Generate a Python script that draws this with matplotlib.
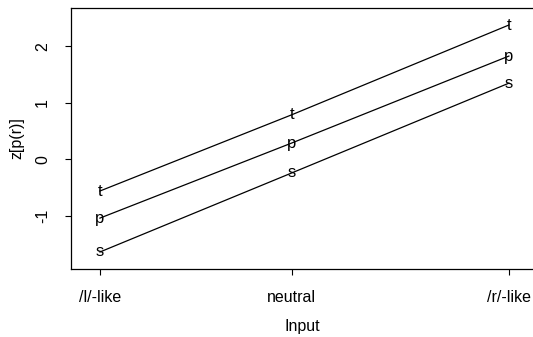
import matplotlib
matplotlib.use("Agg")
import matplotlib.pyplot as plt

plt.rcParams["font.family"] = ["Liberation Sans", "DejaVu Sans"]

# input positions (ticks are not quite evenly spaced)
input_pos = [0.0, 0.469, 1.0]
input_labels = ["/l/-like", "neutral", "/r/-like"]

# z[p(r)] per consonant
z_t = [-0.56, 0.79, 2.38]
z_p = [-1.04, 0.29, 1.83]
z_s = [-1.64, -0.24, 1.35]

series = [("t", z_t), ("p", z_p), ("s", z_s)]

fig = plt.figure(figsize=(5.33, 3.37), dpi=100)
ax = fig.add_axes([0.133, 0.202, 0.867, 0.774])

for letter, vals in series:
    ax.plot(input_pos, vals, color="black", lw=0.9, zorder=2)
    for x, y in zip(input_pos, vals):
        ax.text(x, y, letter, ha="center", va="center", fontsize=12,
                color="black", zorder=3)

ax.set_xlim(-0.071, 1.059)
ax.set_ylim(-1.94, 2.68)

ax.set_xticks(input_pos)
ax.set_xticklabels(input_labels, fontsize=11.5)
ax.set_yticks([-1, 0, 1, 2])
ax.set_yticklabels(["-1", "0", "1", "2"], fontsize=11.5, rotation=90, va="center")
ax.tick_params(axis="x", direction="out", length=4, width=0.8, pad=11)
ax.tick_params(axis="y", direction="out", length=4, width=0.8, pad=11)

ax.spines["right"].set_visible(False)
for side in ["left", "bottom", "top"]:
    ax.spines[side].set_linewidth(0.9)

ax.set_xlabel("Input", fontsize=11.5, labelpad=10)
ax.set_ylabel("z[p(r)]", fontsize=11.5, labelpad=8)

fig.savefig("out.png", dpi=100)
